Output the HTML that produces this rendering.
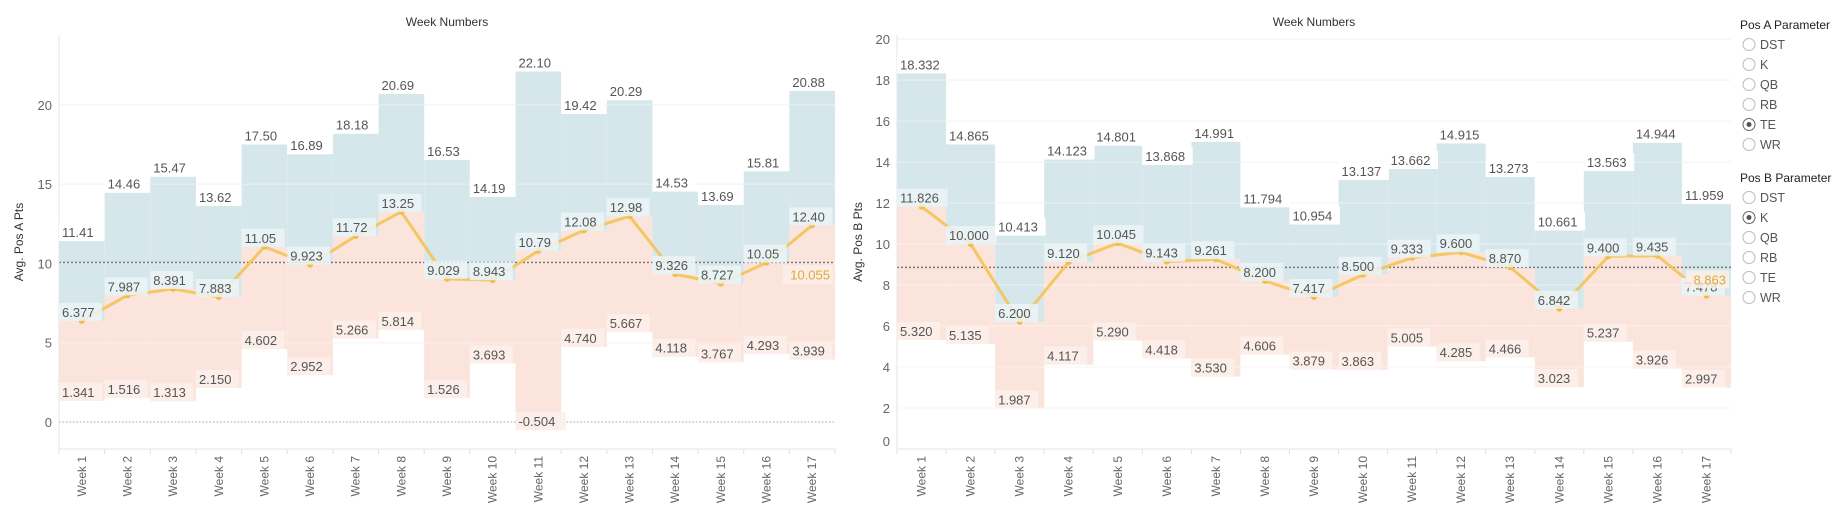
<!DOCTYPE html>
<html><head><meta charset="utf-8">
<style>
body{margin:0;background:#fff;font-family:"Liberation Sans",sans-serif;}
svg text{font-family:"Liberation Sans",sans-serif;}
</style></head>
<body>
<svg id="root" width="1839" height="515" viewBox="0 0 1839 515" xmlns="http://www.w3.org/2000/svg">
<g id="chartA"></g>
<g id="chartB"></g>
<g id="legend"></g>
</svg>
<script>
const weeks = ["Week 1","Week 2","Week 3","Week 4","Week 5","Week 6","Week 7","Week 8","Week 9","Week 10","Week 11","Week 12","Week 13","Week 14","Week 15","Week 16","Week 17"];
const aMax = [11.41,14.46,15.47,13.62,17.50,16.89,18.18,20.69,16.53,14.19,22.10,19.42,20.29,14.53,13.69,15.81,20.88];
const aMid = [6.377,7.987,8.391,7.883,11.05,9.923,11.72,13.25,9.029,8.943,10.79,12.08,12.98,9.326,8.727,10.05,12.40];
const aMin = [1.341,1.516,1.313,2.150,4.602,2.952,5.266,5.814,1.526,3.693,-0.504,4.740,5.667,4.118,3.767,4.293,3.939];
const aMaxLbl = ["11.41","14.46","15.47","13.62","17.50","16.89","18.18","20.69","16.53","14.19","22.10","19.42","20.29","14.53","13.69","15.81","20.88"];
const aMidLbl = ["6.377","7.987","8.391","7.883","11.05","9.923","11.72","13.25","9.029","8.943","10.79","12.08","12.98","9.326","8.727","10.05","12.40"];
const aMinLbl = ["1.341","1.516","1.313","2.150","4.602","2.952","5.266","5.814","1.526","3.693","-0.504","4.740","5.667","4.118","3.767","4.293","3.939"];
const aAvg = 10.055;
const aTicks = [0,5,10,15,20];
const bMax = [18.332,14.865,10.413,14.123,14.801,13.868,14.991,11.794,10.954,13.137,13.662,14.915,13.273,10.661,13.563,14.944,11.959];
const bMid = [11.826,10.000,6.200,9.120,10.045,9.143,9.261,8.200,7.417,8.500,9.333,9.600,8.870,6.842,9.400,9.435,7.478];
const bMin = [5.320,5.135,1.987,4.117,5.290,4.418,3.530,4.606,3.879,3.863,5.005,4.285,4.466,3.023,5.237,3.926,2.997];
const bMaxLbl = ["18.332","14.865","10.413","14.123","14.801","13.868","14.991","11.794","10.954","13.137","13.662","14.915","13.273","10.661","13.563","14.944","11.959"];
const bMidLbl = ["11.826","10.000","6.200","9.120","10.045","9.143","9.261","8.200","7.417","8.500","9.333","9.600","8.870","6.842","9.400","9.435","7.478"];
const bMinLbl = ["5.320","5.135","1.987","4.117","5.290","4.418","3.530","4.606","3.879","3.863","5.005","4.285","4.466","3.023","5.237","3.926","2.997"];
const bAvg = 8.863;
const bTicks = [0,2,4,6,8,10,12,14,16,18,20];
const posOptions = ["DST","K","QB","RB","TE","WR"];

const NS="http://www.w3.org/2000/svg";
function mk(tag, attrs, parent){const e=document.createElementNS(NS,tag);for(const k in attrs)e.setAttribute(k,attrs[k]);parent.appendChild(e);return e;}

function drawChart(g, cfg){
  const {x0,x1,top,bottom,vTop,vBot,maxV,midV,minV,maxL,midL,minL,avg,ticks,avgLbl,zeroLine}=cfg;
  const n=weeks.length, cw=(x1-x0)/n;
  const y=v=>top+(vTop-v)/(vTop-vBot)*(bottom-top);
  const xs=i=>x0+i*cw;
  let t=mk('text',{x:(x0+x1)/2,y:26,'text-anchor':'middle','font-size':12,fill:'#333'},g);t.textContent='Week Numbers';
  
  t=mk('text',{x:0,y:0,transform:`translate(${cfg.ytX},${(top+bottom)/2}) rotate(-90)`,'text-anchor':'middle','font-size':12,fill:'#333'},g);t.textContent=cfg.yTitle;
  
  ticks.forEach(v=>{const l=mk('line',{x1:x0,x2:x1,y1:y(v),y2:y(v),stroke:'#ececec','stroke-width':1},g);});
  for(let i=0;i<n;i++){
    const r1=mk('rect',{x:xs(i),y:y(midV[i]),width:cw,height:y(minV[i])-y(midV[i]),fill:'#fbe4dc'},g);
    
  }
  for(let i=0;i<n;i++){
    const r2=mk('rect',{x:xs(i),y:y(maxV[i]),width:cw,height:y(midV[i])-y(maxV[i]),fill:'#d6e7ec'},g);
    
  }
  ticks.forEach(v=>{const l=mk('line',{x1:x0,x2:x1,y1:y(v),y2:y(v),stroke:'#fff','stroke-width':1,opacity:0.45},g);});
  if(zeroLine){const z=mk('line',{x1:x0,x2:x1,y1:y(0),y2:y(0),stroke:'#aaa','stroke-dasharray':'1.5,2','stroke-width':1},g);}
  const al=mk('line',{x1:x0,x2:x1,y1:y(avg),y2:y(avg),stroke:'#777','stroke-dasharray':'2,2','stroke-width':1.5},g);
  
  mk('line',{x1:x0,x2:x0,y1:top,y2:bottom,stroke:'#e6e6e6'},g);
  mk('line',{x1:x0,x2:x1,y1:bottom,y2:bottom,stroke:'#e6e6e6'},g);
  ticks.forEach(v=>{let yy=y(v); if(yy>bottom-8) yy=bottom-8; const tt=mk('text',{x:x0-7,y:yy+5,'text-anchor':'end','font-size':13,fill:'#666'},g);tt.textContent=v;});
  for(let i=0;i<=n;i++) mk('line',{x1:xs(i),x2:xs(i),y1:bottom,y2:bottom+5,stroke:'#e0e0e0'},g);
  for(let i=0;i<n;i++){const tt=mk('text',{x:0,y:0,transform:`translate(${xs(i)+cw/2+4},${bottom+7}) rotate(-90)`,'text-anchor':'end','font-size':12,fill:'#666'},g);tt.textContent=weeks[i];}
  const pts=midV.map((v,i)=>`${xs(i)+cw/2},${y(v)}`).join(' ');
  const pl=mk('polyline',{points:pts,fill:'none',stroke:'#f3c55c','stroke-width':3,'stroke-linejoin':'round',opacity:0.95},g);
  
  midV.forEach((v,i)=>{const c=mk('circle',{cx:xs(i)+cw/2,cy:y(v),r:3,fill:'#f0bd4a'},g);});
  function lbl(txt,xx,yb,bg,name){
    const w=txt.length*7.4+6;
    const r=mk('rect',{x:xx,y:yb-18,width:w,height:18,fill:bg},g);
    
    const tt=mk('text',{x:xx+3,y:yb-4,'font-size':13,fill:'#555'},g);tt.textContent=txt;
    
  }
  for(let i=0;i<n;i++){
    lbl(maxL[i],xs(i),y(maxV[i]),'#fff','max-value-label');
    lbl(minL[i],xs(i),y(minV[i]),'rgba(252,238,233,0.9)','min-value-label');
    lbl(midL[i],xs(i),y(midV[i]),'rgba(236,243,246,0.85)','median-value-label');
  }
  const w=avgLbl.length*7.4+6;
  mk('rect',{x:x1-w-2,y:y(avg)+3,width:w,height:18,fill:'rgba(252,238,233,0.85)'},g);
  const at=mk('text',{x:x1-5,y:y(avg)+17,'text-anchor':'end','font-size':13,fill:'#e0a935'},g);at.textContent=avgLbl;
  
}
drawChart(document.getElementById('chartA'),{x0:59,x1:835,top:35,bottom:449,vTop:24.4,vBot:-1.70,maxV:aMax,midV:aMid,minV:aMin,maxL:aMaxLbl,midL:aMidLbl,minL:aMinLbl,avg:aAvg,ticks:aTicks,avgLbl:'10.055',zeroLine:true,ytX:23,yTitle:'Avg. Pos A Pts'});
drawChart(document.getElementById('chartB'),{x0:897,x1:1731,top:35,bottom:449,vTop:20.2,vBot:0,maxV:bMax,midV:bMid,minV:bMin,maxL:bMaxLbl,midL:bMidLbl,minL:bMinLbl,avg:bAvg,ticks:bTicks,avgLbl:'8.863',zeroLine:false,ytX:862,yTitle:'Avg. Pos B Pts'});

const lg=document.getElementById('legend');
function group(title,y0,sel,name){
  const t=mk('text',{x:1740,y:y0,'font-size':12,fill:'#222'},lg);t.textContent=title;
  
  posOptions.forEach((o,i)=>{
    const cy=y0+20+i*20;
    const c=mk('circle',{cx:1749,cy:cy-4.5,r:6,fill:'#fff',stroke:'#bbb','stroke-width':1},lg);
    
    if(o===sel){c.setAttribute('stroke','#666');mk('circle',{cx:1749,cy:cy-4.5,r:2.5,fill:'#555'},lg);}
    const tt=mk('text',{x:1760,y:cy,'font-size':12.5,fill:'#555'},lg);tt.textContent=o;
    
  });
}
group('Pos A Parameter',29,'TE','pos-a-parameter');
group('Pos B Parameter',182,'K','pos-b-parameter');
</script>
</body></html>
